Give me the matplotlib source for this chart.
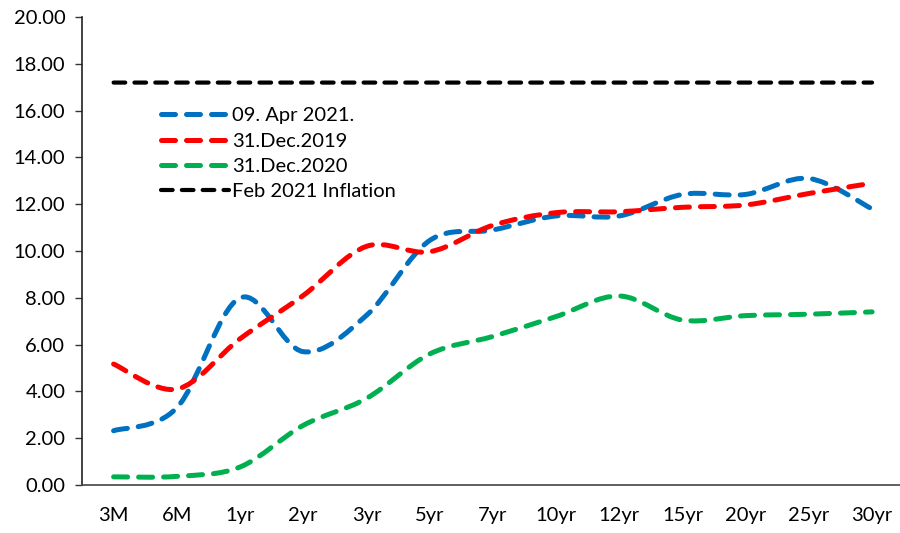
import matplotlib

matplotlib.use("Agg")
import matplotlib.pyplot as plt
from matplotlib.lines import Line2D
from matplotlib.patches import PathPatch
from matplotlib.path import Path

tenors = ["3M", "6M", "1yr", "2yr", "3yr", "5yr", "7yr", "10yr", "12yr", "15yr", "20yr", "25yr", "30yr"]
apr_2021 = [2.32, 3.3, 8.0, 5.7, 7.25, 10.45, 10.9, 11.5, 11.5, 12.42, 12.42, 13.1, 11.8]
dec_2019 = [5.17, 4.1, 6.25, 8.1, 10.2, 9.97, 11.1, 11.64, 11.68, 11.87, 11.97, 12.46, 12.9]
dec_2020 = [0.35, 0.37, 0.77, 2.55, 3.7, 5.6, 6.35, 7.2, 8.08, 7.05, 7.24, 7.3, 7.4]
inflation = [17.2] * len(tenors)

series = [
    ("09. Apr 2021.", apr_2021, "#0070C0"),
    ("31.Dec.2019", dec_2019, "#FF0000"),
    ("31.Dec.2020", dec_2020, "#00B050"),
    ("Feb 2021 Inflation", inflation, "#000000"),
]

DASH = (0, (2.8, 2.2))
FONT = "Lato"
FS = 14.5


def smooth_path(xs, ys):
    # Excel-style smoothed line: cubic Bezier segments through every point
    n = len(xs)
    verts = [(xs[0], ys[0])]
    codes = [Path.MOVETO]
    for i in range(n - 1):
        x0, y0 = xs[max(i - 1, 0)], ys[max(i - 1, 0)]
        x1, y1 = xs[i], ys[i]
        x2, y2 = xs[i + 1], ys[i + 1]
        x3, y3 = xs[min(i + 2, n - 1)], ys[min(i + 2, n - 1)]
        c1 = (x1 + (x2 - x0) / 6, y1 + (y2 - y0) / 6)
        c2 = (x2 - (x3 - x1) / 6, y2 - (y3 - y1) / 6)
        verts += [c1, c2, (x2, y2)]
        codes += [Path.CURVE4] * 3
    return Path(verts, codes)


fig = plt.figure(figsize=(9, 5.33), dpi=100)
ax = fig.add_axes([0.0911, 0.090, 0.913, 0.878])

xs = list(range(len(tenors)))
handles = []
for label, values, color in series:
    lw = 3.0 if color == "#000000" else 3.6
    patch = PathPatch(
        smooth_path(xs, values),
        fill=False,
        edgecolor=color,
        linewidth=lw,
        linestyle=DASH,
        capstyle="round",
        transform=ax.transData,
    )
    ax.add_patch(patch)
    handles.append(
        Line2D([], [], color=color, linewidth=lw, linestyle=DASH, dash_capstyle="round", label=label)
    )

ax.set_xlim(-0.5, len(tenors) - 0.5)
ax.set_ylim(0, 20)
ax.set_yticks(range(0, 21, 2))
ax.set_yticklabels([f"{v:.2f}" for v in range(0, 21, 2)], fontfamily=FONT, fontsize=FS)
ax.set_xticks(xs)
ax.set_xticklabels(tenors, fontfamily=FONT, fontsize=FS)
ax.tick_params(axis="x", length=0, pad=16)
ax.tick_params(axis="y", length=5, width=1, pad=7, color="#333333")

for side in ("top", "right"):
    ax.spines[side].set_visible(False)
ax.spines["left"].set_color("#222222")
ax.spines["bottom"].set_color("#444444")
ax.spines["left"].set_linewidth(1.2)
ax.spines["bottom"].set_linewidth(1.2)

ax.legend(
    handles=handles,
    loc="upper left",
    bbox_to_anchor=(0.096, 0.807),
    frameon=False,
    prop={"family": FONT, "size": FS},
    handlelength=3.4,
    handletextpad=0.15,
    labelspacing=0.4,
    borderpad=0,
    borderaxespad=0,
)

fig.savefig("out.png", dpi=100)
